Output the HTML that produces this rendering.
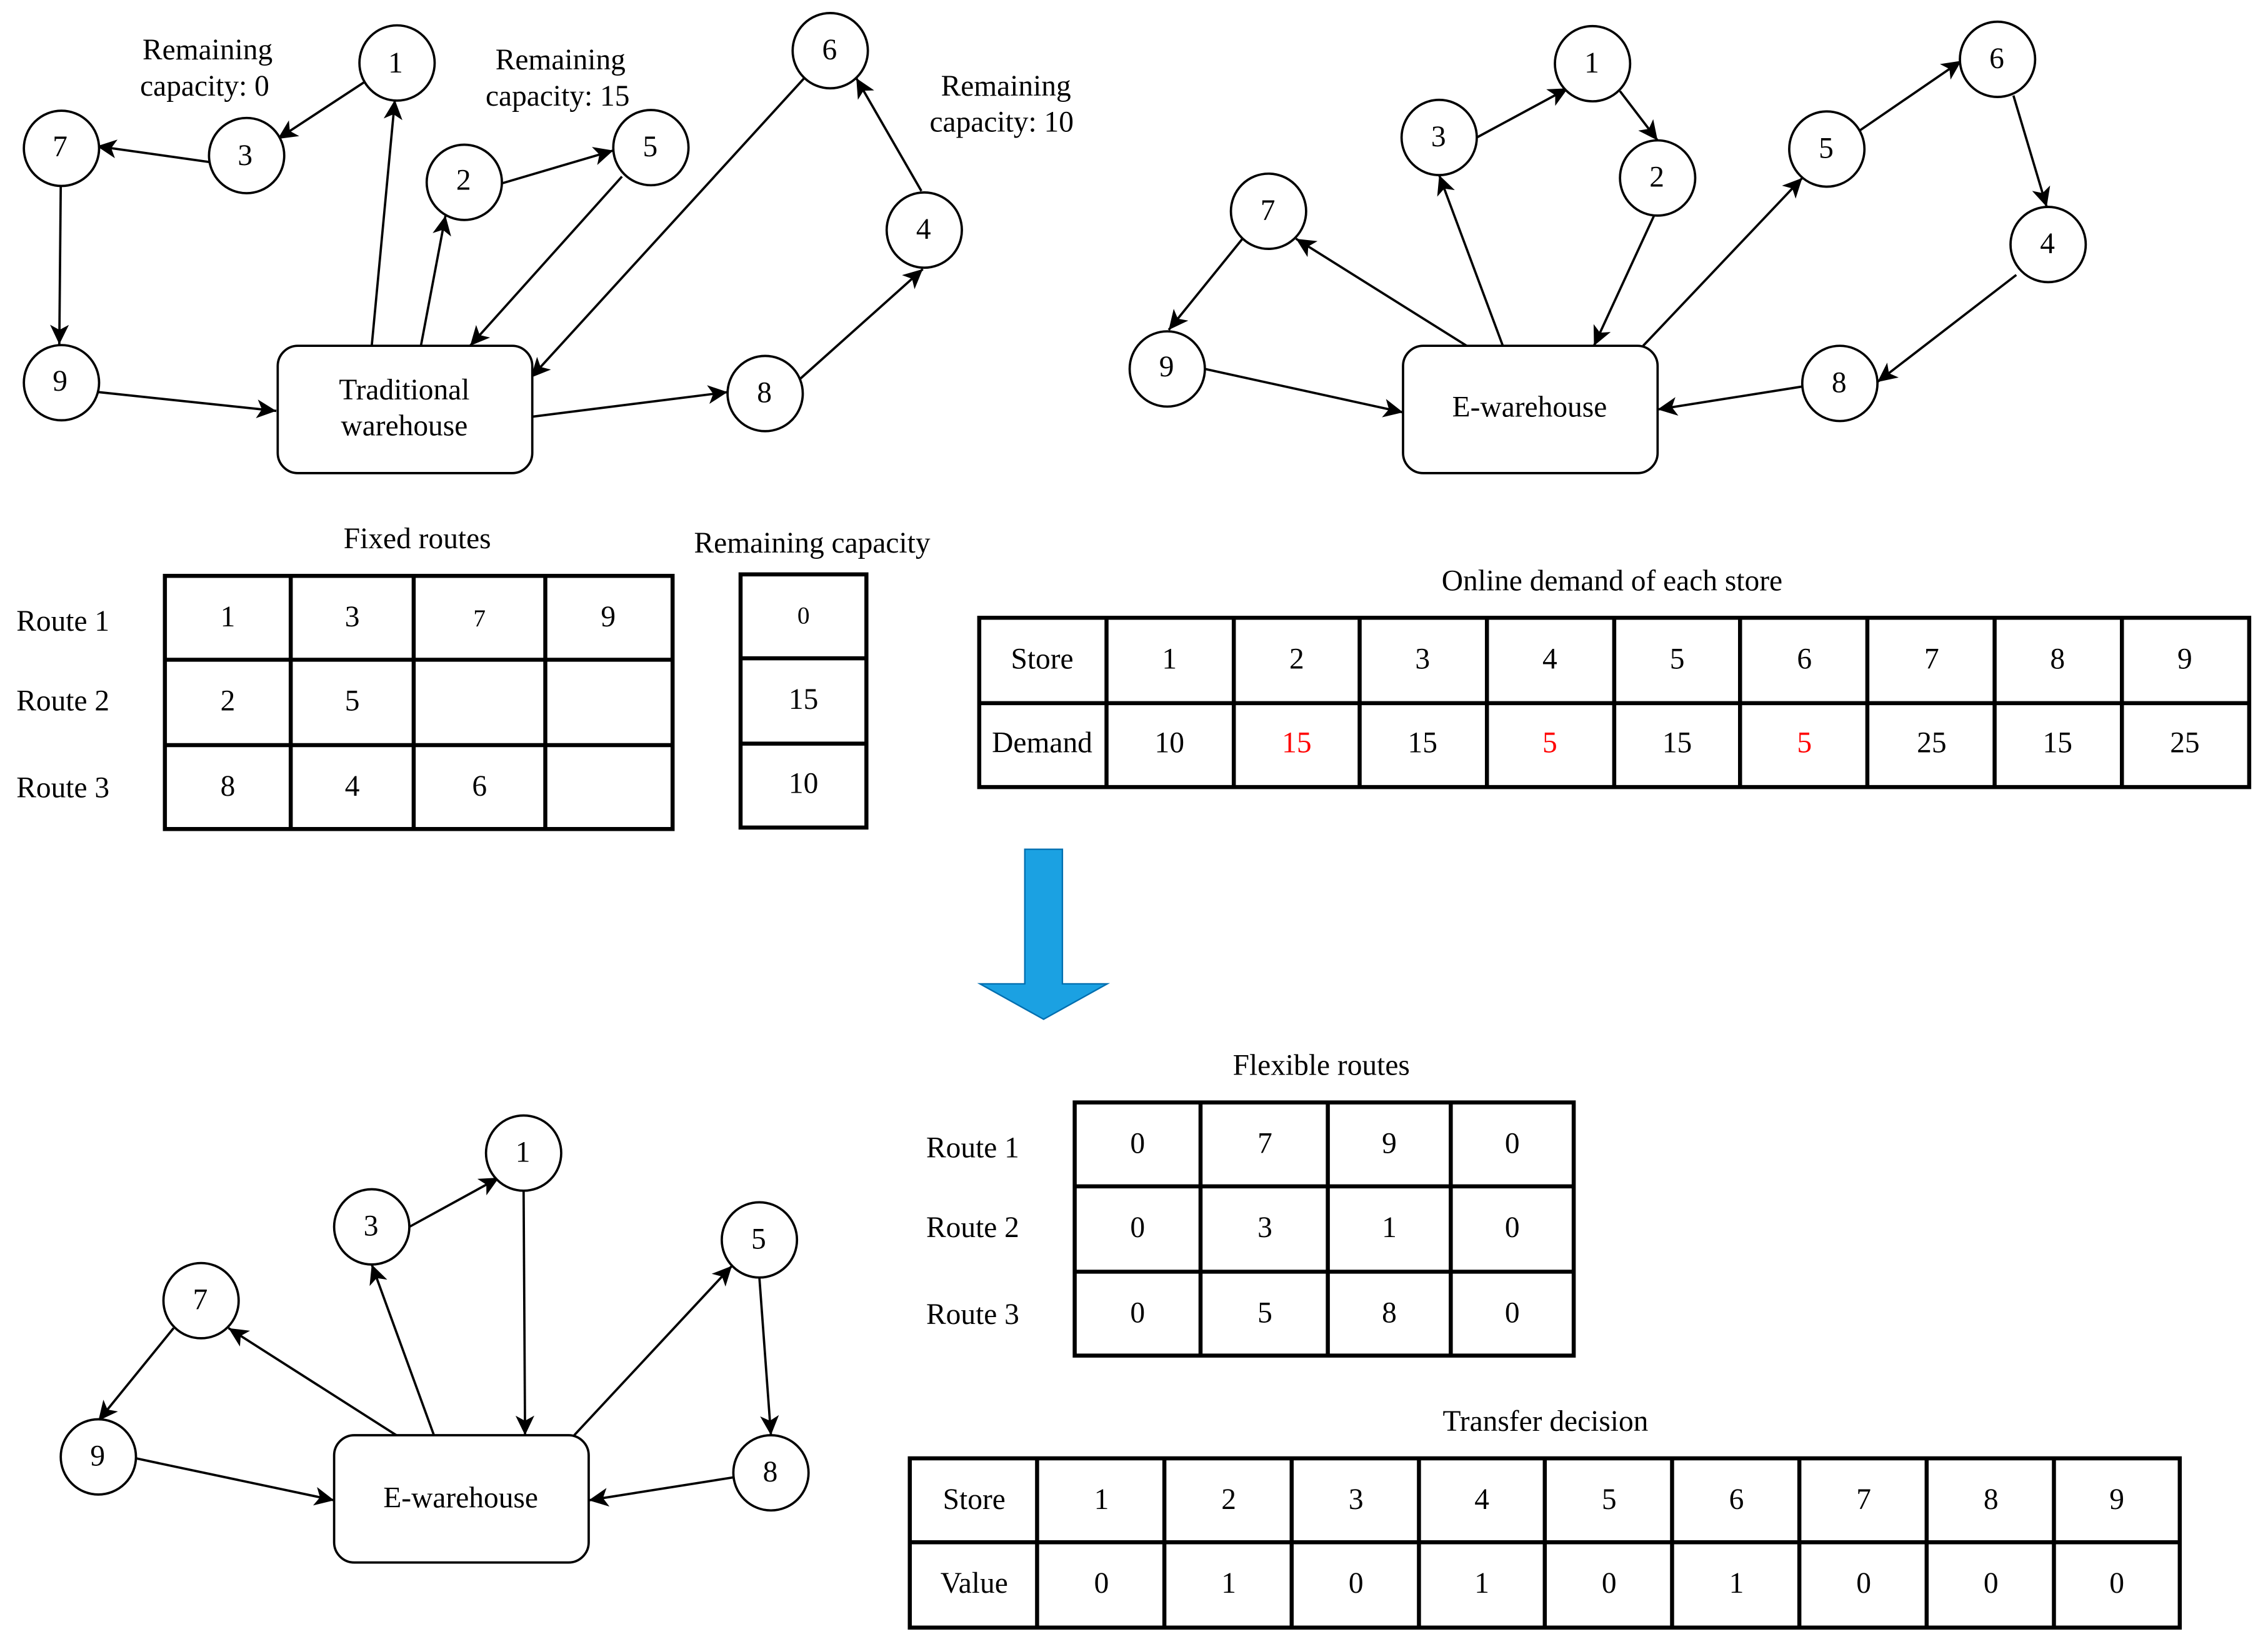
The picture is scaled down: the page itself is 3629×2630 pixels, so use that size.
<!DOCTYPE html>
<html><head><meta charset="utf-8"><style>
html,body{margin:0;padding:0;background:#fff}
svg{display:block}
text{font-family:"Liberation Serif",serif;font-size:20.5px;text-anchor:middle;fill:#000;transform:translate(.5px,0)}
.c{fill:#fff;stroke:#000;stroke-width:1.6}
.a{stroke:#000;stroke-width:1.6;fill:none;marker-end:url(#m)}
.t{stroke:#000;stroke-width:2.8;fill:none}
</style></head><body>
<svg width="3629" height="2630" viewBox="0 0 1568 1136.3" xmlns="http://www.w3.org/2000/svg">
<defs><marker id="m" markerUnits="userSpaceOnUse" markerWidth="15" markerHeight="15" refX="13.500" refY="7" orient="auto"><path d="M13.500,7 L0,0.500 L3.500,7 L0,13.500 Z" fill="#000"/></marker></defs>
<rect width="1568" height="1136.3" fill="#fff"/>

<!-- top left -->
<path class="a" d="M253,56 L192,96"/>
<path class="a" d="M145,112 L67,101"/>
<path class="a" d="M42,128 L41,238"/>
<path class="a" d="M257,239 L273,69"/>
<path class="a" d="M291,239 L308,149"/>
<path class="a" d="M346,127 L424,104"/>
<path class="a" d="M430,122 L325,239"/>
<path class="a" d="M556,54 L367,261"/>
<path class="a" d="M68,271 L191,284"/>
<path class="a" d="M368,288 L503,271"/>
<path class="a" d="M553,262 L638,186"/>
<path class="a" d="M637,132 L592,54"/>
<rect class="c" x="192" y="239" width="176" height="88" rx="14"/>
<circle class="c" cx="274.500" cy="43.500" r="26"/><text x="273" y="50">1</text>
<circle class="c" cx="170.500" cy="107.500" r="26"/><text x="169" y="114">3</text>
<circle class="c" cx="42.500" cy="102.500" r="26"/><text x="41" y="108">7</text>
<circle class="c" cx="42.500" cy="264.500" r="26"/><text x="41" y="270">9</text>
<circle class="c" cx="321" cy="126" r="26"/><text x="320" y="131">2</text>
<circle class="c" cx="450" cy="102" r="26"/><text x="449" y="108">5</text>
<circle class="c" cx="574" cy="35" r="26"/><text x="573" y="41">6</text>
<circle class="c" cx="639" cy="159" r="26"/><text x="638" y="165">4</text>
<circle class="c" cx="529" cy="272" r="26"/><text x="528" y="278">8</text>
<text x="279" y="276">Traditional</text><text x="279" y="301">warehouse</text>
<text x="143" y="41">Remaining</text><text x="141" y="66">capacity: 0</text>
<text x="387" y="48">Remaining</text><text x="385" y="73">capacity: 15</text>
<text x="695" y="66">Remaining</text><text x="692" y="91">capacity: 10</text>

<!-- top right -->
<path class="a" d="M1021,95 L1084,61"/>
<path class="a" d="M1120,63 L1146,97"/>
<path class="a" d="M1039,239 L995,121"/>
<path class="a" d="M1014,239 L896,165"/>
<path class="a" d="M859,165 L808,228"/>
<path class="a" d="M833,255 L970,285"/>
<path class="a" d="M1144,148 L1102,239"/>
<path class="a" d="M1136,239 L1246,123"/>
<path class="a" d="M1286,90 L1356,42"/>
<path class="a" d="M1392,66 L1415,143"/>
<path class="a" d="M1394,190 L1298,264"/>
<path class="a" d="M1247,267 L1146,283"/>
<rect class="c" x="970" y="239" width="176" height="88" rx="14"/>
<circle class="c" cx="1101" cy="44" r="26"/><text x="1100" y="50">1</text>
<circle class="c" cx="995" cy="95" r="26"/><text x="994" y="101">3</text>
<circle class="c" cx="877" cy="146" r="26"/><text x="876" y="152">7</text>
<circle class="c" cx="807" cy="255" r="26"/><text x="806" y="260">9</text>
<circle class="c" cx="1146" cy="123" r="26"/><text x="1145" y="129">2</text>
<circle class="c" cx="1263" cy="103" r="26"/><text x="1262" y="109">5</text>
<circle class="c" cx="1381" cy="41" r="26"/><text x="1380" y="47">6</text>
<circle class="c" cx="1416" cy="169" r="26"/><text x="1415" y="175">4</text>
<circle class="c" cx="1272" cy="265" r="26"/><text x="1271" y="271">8</text>
<text x="1057" y="288">E-warehouse</text>

<!-- bottom left -->
<path class="a" d="M283,848 L345,814"/>
<path class="a" d="M362,823 L363,992"/>
<path class="a" d="M300,992 L257,874"/>
<path class="a" d="M274,992 L158,918"/>
<path class="a" d="M120,918 L68,982"/>
<path class="a" d="M94,1008 L231,1037"/>
<path class="a" d="M397,992 L506,875"/>
<path class="a" d="M525,883 L533,992"/>
<path class="a" d="M508,1021 L407,1037"/>
<rect class="c" x="231" y="992" width="176" height="88" rx="14"/>
<circle class="c" cx="362" cy="797" r="26"/><text x="361" y="803">1</text>
<circle class="c" cx="257" cy="848" r="26"/><text x="256" y="854">3</text>
<circle class="c" cx="139" cy="899" r="26"/><text x="138" y="905">7</text>
<circle class="c" cx="68" cy="1007" r="26"/><text x="67" y="1013">9</text>
<circle class="c" cx="525" cy="857" r="26"/><text x="524" y="863">5</text>
<circle class="c" cx="533" cy="1018" r="26"/><text x="532" y="1024">8</text>
<text x="318" y="1042">E-warehouse</text>

<!-- Fixed routes -->
<text x="288" y="379">Fixed routes</text>
<path class="t" d="M114,398H465V573H114ZM114,456H465M114,515H465M201,398V573M286,398V573M377,398V573"/>
<text x="43" y="436">Route 1</text><text x="43" y="491">Route 2</text><text x="43" y="551">Route 3</text>
<text x="157" y="433">1</text><text x="243" y="433">3</text><text x="331" y="433" style="font-size:17px">7</text><text x="420" y="433">9</text>
<text x="157" y="491">2</text><text x="243" y="491">5</text>
<text x="157" y="550">8</text><text x="243" y="550">4</text><text x="331" y="550">6</text>

<!-- Remaining capacity -->
<text x="561" y="382">Remaining capacity</text>
<path class="t" d="M512,397H599V572H512ZM512,455H599M512,514H599"/>
<text x="555" y="431" style="font-size:17px">0</text><text x="555" y="490">15</text><text x="555" y="548">10</text>

<!-- Online demand -->
<text x="1114" y="408">Online demand of each store</text>
<path class="t" d="M677,427H1555V544H677ZM677,486H1555M765,427V544M853,427V544M940,427V544M1028,427V544M1116,427V544M1203,427V544M1291,427V544M1379,427V544M1467,427V544"/>
<text x="720" y="462">Store</text><text x="808" y="462">1</text><text x="896" y="462">2</text><text x="983" y="462">3</text><text x="1071" y="462">4</text><text x="1159" y="462">5</text><text x="1247" y="462">6</text><text x="1335" y="462">7</text><text x="1422" y="462">8</text><text x="1510" y="462">9</text>
<text x="720" y="520">Demand</text><text x="808" y="520">10</text><text x="896" y="520" style="fill:#f00">15</text><text x="983" y="520">15</text><text x="1071" y="520" style="fill:#f00">5</text><text x="1159" y="520">15</text><text x="1247" y="520" style="fill:#f00">5</text><text x="1335" y="520">25</text><text x="1422" y="520">15</text><text x="1510" y="520">25</text>

<!-- big arrow -->
<path d="M708.500,587H734.500V680H765.500L721.500,704.500L677.500,680H708.500Z" fill="#1ba1e2" stroke="#006eaf" stroke-width="1"/>

<!-- Flexible routes -->
<text x="913" y="743">Flexible routes</text>
<path class="t" d="M743,762H1088V937H743ZM743,820H1088M743,879H1088M830,762V937M918,762V937M1003,762V937"/>
<text x="672" y="800">Route 1</text><text x="672" y="855">Route 2</text><text x="672" y="915">Route 3</text>
<text x="786" y="797">0</text><text x="874" y="797">7</text><text x="960" y="797">9</text><text x="1045" y="797">0</text>
<text x="786" y="855">0</text><text x="874" y="855">3</text><text x="960" y="855">1</text><text x="1045" y="855">0</text>
<text x="786" y="914">0</text><text x="874" y="914">5</text><text x="960" y="914">8</text><text x="1045" y="914">0</text>

<!-- Transfer -->
<text x="1068" y="989">Transfer decision</text>
<path class="t" d="M629,1008H1507V1125H629ZM629,1066H1507M717,1008V1125M805,1008V1125M893,1008V1125M981,1008V1125M1068,1008V1125M1156,1008V1125M1244,1008V1125M1332,1008V1125M1420,1008V1125"/>
<text x="673" y="1043">Store</text><text x="761" y="1043">1</text><text x="849" y="1043">2</text><text x="937" y="1043">3</text><text x="1024" y="1043">4</text><text x="1112" y="1043">5</text><text x="1200" y="1043">6</text><text x="1288" y="1043">7</text><text x="1376" y="1043">8</text><text x="1463" y="1043">9</text>
<text x="673" y="1101">Value</text><text x="761" y="1101">0</text><text x="849" y="1101">1</text><text x="937" y="1101">0</text><text x="1024" y="1101">1</text><text x="1112" y="1101">0</text><text x="1200" y="1101">1</text><text x="1288" y="1101">0</text><text x="1376" y="1101">0</text><text x="1463" y="1101">0</text>
</svg>
</body></html>
